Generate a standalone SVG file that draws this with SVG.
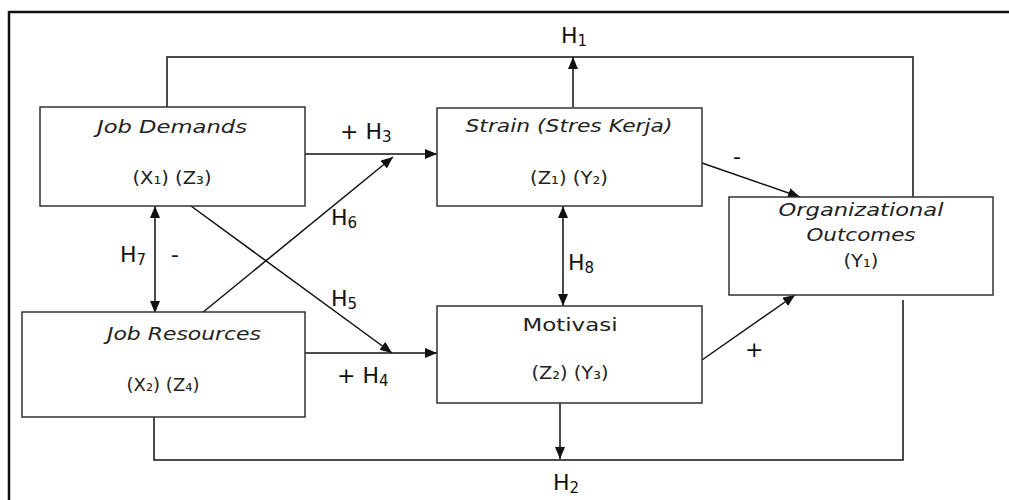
<svg xmlns="http://www.w3.org/2000/svg" width="1009" height="500" viewBox="0 0 1009 500">
<style>
.box{fill:#fff;stroke:#333;stroke-width:1.5}
.ln{fill:none;stroke:#111;stroke-width:1.5}
.arr{fill:none;stroke:#111;stroke-width:1.5;marker-end:url(#ah)}
.dbl{fill:none;stroke:#111;stroke-width:1.5;marker-end:url(#ah);marker-start:url(#ah)}
.t{font-family:"DejaVu Sans","Liberation Sans",sans-serif;font-size:18px;fill:#222;text-anchor:middle}
.i{font-style:italic}
.h{font-family:"DejaVu Sans","Liberation Sans",sans-serif;font-size:22px;fill:#111}
.s{font-size:15px}
</style>
<defs>
<marker id="ah" viewBox="0 0 12 10" refX="12" refY="5" markerWidth="12" markerHeight="10" markerUnits="userSpaceOnUse" orient="auto-start-reverse">
<path d="M0,0 L12,5 L0,10 Z" fill="#111"/>
</marker>
</defs>
<g id="frame">
<line x1="9" y1="12" x2="1009" y2="12" stroke="#111" stroke-width="2.5"/>
<line x1="9" y1="11" x2="9" y2="500" stroke="#111" stroke-width="2.5"/>
</g>
<g id="connectors">
<polyline class="ln" points="167,107 167,57 913,57 913,197"/>
<line class="arr" x1="573" y1="107" x2="573" y2="57"/>
<line class="arr" x1="305" y1="154" x2="437" y2="154"/>
<line class="arr" x1="202" y1="313" x2="393" y2="157"/>
<line class="arr" x1="191" y1="206" x2="392" y2="353"/>
<line class="arr" x1="305" y1="353" x2="437" y2="353"/>
<line class="dbl" x1="155" y1="206" x2="155" y2="313"/>
<line class="dbl" x1="563" y1="206" x2="563" y2="306"/>
<line class="arr" x1="702" y1="163" x2="800" y2="197"/>
<line class="arr" x1="702" y1="360" x2="795" y2="295"/>
<line class="arr" x1="560" y1="403" x2="560" y2="459"/>
<polyline class="ln" points="154,407 154,460 903,460 903,300"/>
</g>
<g id="labels">
<text class="h" x="561" y="43">H<tspan class="s" dy="3">1</tspan></text>
<text class="h" x="340" y="139">+ H<tspan class="s" dy="3">3</tspan></text>
<text class="h" x="331" y="225">H<tspan class="s" dy="3">6</tspan></text>
<text class="h" x="331" y="306">H<tspan class="s" dy="3">5</tspan></text>
<text class="h" x="337" y="383">+ H<tspan class="s" dy="3">4</tspan></text>
<text class="h" x="120" y="262">H<tspan class="s" dy="3">7</tspan></text>
<text class="h" x="171" y="262">-</text>
<text class="h" x="568" y="270">H<tspan class="s" dy="3">8</tspan></text>
<text class="h" x="553" y="490">H<tspan class="s" dy="3">2</tspan></text>
<text class="h" x="733" y="164">-</text>
<text class="h" x="745" y="357">+</text>
</g>
<g id="job-demands">
<rect class="box" x="40" y="107" width="265" height="99"/>
<text class="t i" x="172" y="133" textLength="150" lengthAdjust="spacingAndGlyphs">Job Demands</text>
<text class="t" x="172" y="184" textLength="79" lengthAdjust="spacingAndGlyphs">(X₁) (Z₃)</text>
</g>
<g id="strain">
<rect class="box" x="437" y="108" width="265" height="98"/>
<text class="t i" x="569" y="132" textLength="207" lengthAdjust="spacingAndGlyphs">Strain (Stres Kerja)</text>
<text class="t" x="569" y="184" textLength="78" lengthAdjust="spacingAndGlyphs">(Z₁) (Y₂)</text>
</g>
<g id="organizational-outcomes">
<rect class="box" x="729" y="197" width="264" height="98"/>
<text class="t i" x="861" y="216" textLength="165" lengthAdjust="spacingAndGlyphs">Organizational</text>
<text class="t i" x="861" y="241" textLength="109" lengthAdjust="spacingAndGlyphs">Outcomes</text>
<text class="t" x="861" y="267" textLength="35" lengthAdjust="spacingAndGlyphs">(Y₁)</text>
</g>
<g id="job-resources">
<rect class="box" x="22" y="312" width="283" height="105"/>
<text class="t i" x="184" y="340" textLength="154" lengthAdjust="spacingAndGlyphs">Job Resources</text>
<text class="t" x="163" y="391" textLength="73" lengthAdjust="spacingAndGlyphs">(X₂) (Z₄)</text>
</g>
<g id="motivasi">
<rect class="box" x="437" y="306" width="265" height="97"/>
<text class="t" x="570" y="331" textLength="95" lengthAdjust="spacingAndGlyphs">Motivasi</text>
<text class="t" x="570" y="379" textLength="77" lengthAdjust="spacingAndGlyphs">(Z₂) (Y₃)</text>
</g>
</svg>
